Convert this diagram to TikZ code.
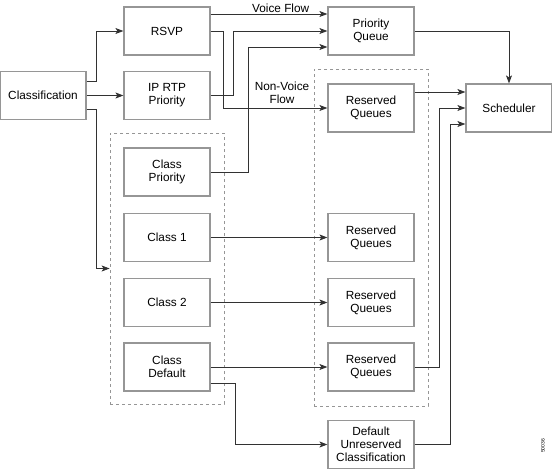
\documentclass[tikz,border=0pt]{standalone}
\usepackage{fontspec}
\setmainfont{Liberation Sans}
\usetikzlibrary{arrows.meta}
\definecolor{boxgray}{RGB}{150,150,150}
\definecolor{linegray}{RGB}{50,50,50}
\begin{document}
\begin{tikzpicture}[x=1pt,y=-1pt,
    box/.style={draw=boxgray,line width=1.2pt,minimum width=86pt,minimum height=48pt,
      inner sep=0pt,align=center,font=\fontsize{11.8}{13}\selectfont},
    group/.style={draw=boxgray,dashed,line width=0.8pt,inner sep=0pt},
    flow/.style={draw=linegray,line width=0.8pt,-{Stealth[length=8pt,width=6pt,inset=2pt]}},
    lbl/.style={align=center,font=\fontsize{11.8}{13}\selectfont,inner sep=1pt}]
      \useasboundingbox (0,0) rectangle (552,469);
      \draw
        (167,268.5) node[group,minimum width=114pt,minimum height=271pt] (lgrp){}
        (371,237.5) node[group,minimum width=114pt,minimum height=337pt] (rgrp){};
      \draw
        (43,95.5) node[box] (cls){Classification}
        (167,31) node[box] (rsvp){RSVP}
        (167,95.5) node[box] (iprtp){IP RTP\\Priority}
        (167,172) node[box] (cprio){Class\\Priority}
        (167,237.5) node[box] (c1){Class 1}
        (167,302.5) node[box] (c2){Class 2}
        (167,367) node[box] (cdef){Class\\Default}
        (371,31) node[box] (pq){Priority\\Queue}
        (371,108) node[box] (rq1){Reserved\\Queues}
        (371,237.5) node[box] (rq2){Reserved\\Queues}
        (371,302.5) node[box] (rq3){Reserved\\Queues}
        (371,367) node[box] (rq4){Reserved\\Queues}
        (371,444.5) node[box] (dunr){Default\\Unreserved\\Classification}
        (509,108) node[box] (sched){Scheduler};
      \node[lbl] (nv) at (282,93) {Non-Voice\\Flow};
      \node[rotate=90,font=\fontsize{5}{6}\selectfont,inner sep=0pt] (id) at (543,446) {50036};
      \begin{scope}[flow]
        \draw ([yshift=14pt]cls.east) -- ++(10,0) |- (rsvp.west);
        \draw (cls) -- (iprtp);
        \draw ([yshift=-14pt]cls.east) -- ++(10,0) |- (lgrp.west);
        \draw ([yshift=17pt]rsvp.east) -- node[lbl,above,pos=0.6] (vf){Voice Flow} ([yshift=17pt]pq.west);
        \draw (rsvp.east) -- ++(13,0) |- (rq1.west);
        \draw (iprtp.east) -- ++(23,0) |- (pq.west);
        \draw (cprio.east) -- ++(38,0) |- ([yshift=-16pt]pq.west);
        \draw (c1) -- (rq2);
        \draw (c2) -- (rq3);
        \draw (cdef) -- (rq4);
        \draw ([yshift=-16pt]cdef.east) -- ++(25,0) |- (dunr.west);
        \draw (pq.east) -| (sched.north);
        \draw ([yshift=16pt]rq1.east) -- ([yshift=16pt]sched.west);
        \draw (rq4.east) -- ++(25,0) |- (sched.west);
        \draw (dunr.east) -- ++(36,0) |- ([yshift=-16pt]sched.west);
      \end{scope}
    \end{tikzpicture}
\end{document}
